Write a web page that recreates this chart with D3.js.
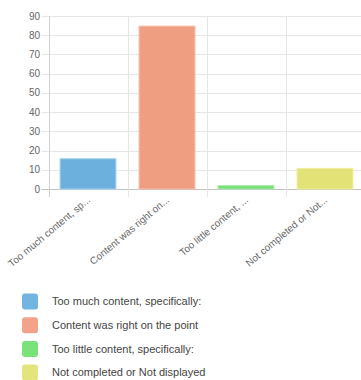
<!DOCTYPE html>
<html><head><meta charset="utf-8">
<script src="https://cdn.jsdelivr.net/npm/d3@7"></script>
<style>
html,body{margin:0;padding:0;background:#fff;overflow:hidden}
svg{display:block;font-family:"Liberation Sans",Arial,Helvetica,sans-serif}
</style></head><body>
<svg id="c" width="361" height="380"></svg>
<script>
const categories = ["Too much content, specifically:", "Content was right on the point", "Too little content, specifically:", "Not completed or Not displayed"];
const shortLabels = ["Too much content, sp...", "Content was right on...", "Too little content, ...", "Not completed or Not..."];
const values = [16, 85, 2, 11];
const yTicks = [0, 10, 20, 30, 40, 50, 60, 70, 80, 90];
const fills = ["#6cb0de", "#f09e82", "#76df77", "#e2e276"];
const strokes = ["#a6d2f0", "#f8bca6", "#a4eca4", "#eeee9c"];
const swatch = ["#72b5e1", "#f2a389", "#7ae27b", "#e4e47c"];

(function () {
const svg = d3.select("#c");
const mLeft = 48.5, mRight = 364.5, mTop = 16, mBottom = 189;
const x = d3.scaleBand().domain(categories).range([mLeft, mRight]).paddingInner(0).paddingOuter(0);
const y = d3.scaleLinear().domain([0, 90]).range([mBottom, mTop]);

// horizontal grid
svg.append("g").selectAll("line").data(yTicks).join("line")
  .attr("x1", mLeft - 7).attr("x2", mRight)
  .attr("y1", d => Math.round(y(d)) + 0.5).attr("y2", d => Math.round(y(d)) + 0.5)
  .attr("stroke", d => d === 0 ? "#c4c4c4" : "#e6e6e6").attr("stroke-width", 1);

// vertical grid
const vx = categories.map(c => x(c)).concat([mRight]);
svg.append("g").selectAll("line").data(vx).join("line")
  .attr("x1", d => Math.round(d) + 0.5).attr("x2", d => Math.round(d) + 0.5)
  .attr("y1", mTop).attr("y2", mBottom + 8)
  .attr("stroke", (d, i) => i === 0 ? "#d0d0d0" : "#e6e6e6").attr("stroke-width", 1);

// y labels
svg.append("g").selectAll("text").data(yTicks).join("text")
  .attr("x", 40).attr("y", d => y(d)).attr("dy", "0.35em")
  .attr("text-anchor", "end").attr("font-size", 10).attr("fill", "#666")
  .text(d => d);

// bars
const bw = x.bandwidth() * 0.72;
svg.append("g").selectAll("rect").data(values).join("rect")
  .attr("x", (d, i) => x(categories[i]) + (x.bandwidth() - bw) / 2 + 0.5)
  .attr("y", d => y(d) + 0.5)
  .attr("width", bw - 1)
  .attr("height", d => y(0) - y(d) - 0.5)
  .attr("fill", (d, i) => fills[i])
  .attr("stroke", (d, i) => strokes[i]).attr("stroke-width", 1);

// x labels
svg.append("g").selectAll("text").data(shortLabels).join("text")
  .attr("transform", (d, i) => `translate(${x(categories[i]) + x.bandwidth() / 2 + 3},${mBottom + 12}) rotate(-40)`)
  .attr("text-anchor", "end").attr("font-size", 10).attr("fill", "#666")
  .text(d => d);

// legend
const lg = svg.append("g").selectAll("g").data(categories).join("g")
  .attr("transform", (d, i) => `translate(0,${301.5 + i * 23.7})`);
lg.append("rect").attr("x", 22).attr("y", -8).attr("width", 16).attr("height", 16)
  .attr("rx", 3).attr("fill", (d, i) => swatch[i]);
lg.append("text").attr("x", 52).attr("y", 0).attr("dy", "0.35em")
  .attr("font-size", 11).attr("fill", "#444").text(d => d);
})();
</script>
</body></html>
